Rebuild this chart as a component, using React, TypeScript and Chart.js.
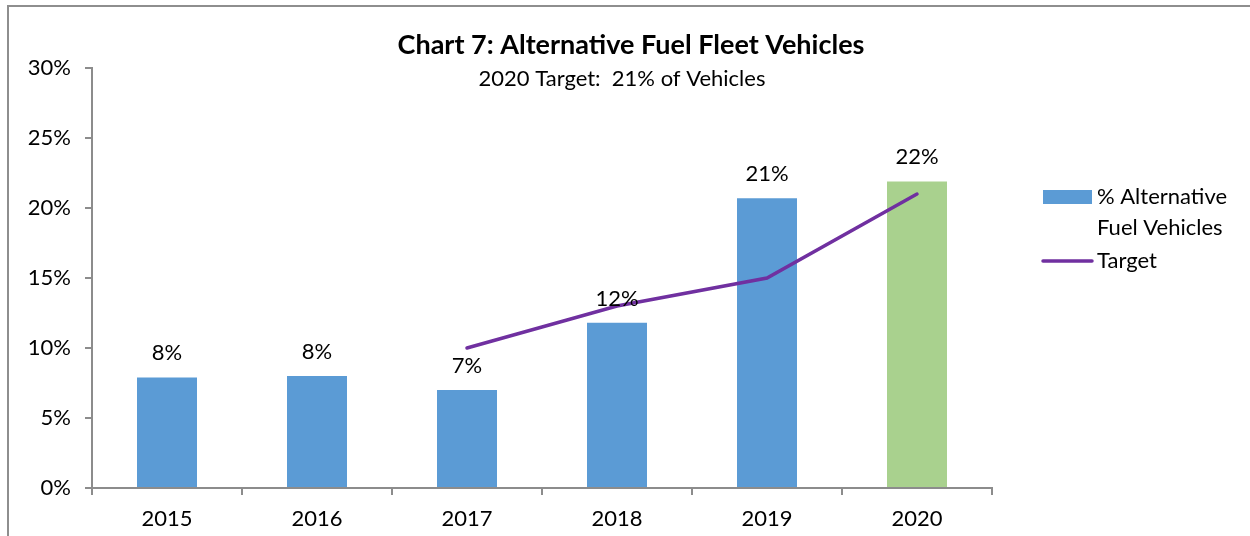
import React, { useEffect, useRef } from "react";
import { Chart, registerables } from "chart.js";

Chart.register(...registerables);

const categories = ["2015", "2016", "2017", "2018", "2019", "2020"];
const altFuelValues = [7.9, 8.0, 7.0, 11.8, 20.7, 21.9];
const targetValues = [null, null, 10, 13, 15, 21];
const barColors = ["#5B9BD5", "#5B9BD5", "#5B9BD5", "#5B9BD5", "#5B9BD5", "#A9D18E"];
const titleText = "Chart 7: Alternative Fuel Fleet Vehicles";
const subtitleText = "2020 Target:  21% of Vehicles";
const legendBarLines = ["% Alternative", "Fuel Vehicles"];
const legendLineLabel = "Target";

const FONT = "Lato, 'Open Sans', sans-serif";
const AXIS_GRAY = "#8c8c8c";
const TXT = 22;

const decorPlugin = {
  id: "decor",
  beforeDraw(chart: any) {
    const ctx = chart.ctx;
    ctx.save();
    ctx.fillStyle = "#ffffff";
    ctx.fillRect(0, 0, chart.width, chart.height);
    ctx.strokeStyle = "#8e8e8e";
    ctx.lineWidth = 2;
    ctx.strokeRect(8, 6, 1260, 545);
    ctx.restore();
  },
  afterDraw(chart: any) {
    const ctx = chart.ctx;
    ctx.save();
    ctx.fillStyle = "#000";
    ctx.textAlign = "center";
    ctx.textBaseline = "middle";
    ctx.font = `bold 27px ${FONT}`;
    ctx.fillText(titleText, 631, 45);
    ctx.font = `${TXT}px ${FONT}`;
    ctx.fillText(subtitleText, 622, 79);

    const meta = chart.getDatasetMeta(0);
    ctx.font = `${TXT}px ${FONT}`;
    meta.data.forEach((bar: any, i: number) => {
      const v = altFuelValues[i];
      ctx.fillText(Math.round(v) + "%", bar.x, bar.y - 24);
    });

    ctx.fillStyle = barColors[0];
    ctx.fillRect(1043, 190, 49, 14);
    ctx.strokeStyle = "#7030A0";
    ctx.lineWidth = 3.5;
    ctx.lineCap = "round";
    ctx.beginPath();
    ctx.moveTo(1043, 261);
    ctx.lineTo(1092, 261);
    ctx.stroke();
    ctx.fillStyle = "#000";
    ctx.textAlign = "left";
    ctx.font = `${TXT}px ${FONT}`;
    ctx.fillText(legendBarLines[0], 1097, 197);
    ctx.fillText(legendBarLines[1], 1097, 228);
    ctx.fillText(legendLineLabel, 1097, 261);
    ctx.restore();
  },
};

export default function App() {
  const ref = useRef<HTMLCanvasElement | null>(null);
  useEffect(() => {
    if (!ref.current) return;
    const chart = new Chart(ref.current, {
      type: "bar",
      data: {
        labels: categories,
        datasets: [
          {
            type: "bar",
            label: "% Alternative Fuel Vehicles",
            data: altFuelValues,
            backgroundColor: barColors,
            barPercentage: 0.4,
            categoryPercentage: 1,
            order: 1,
          },
          {
            type: "line",
            label: "Target",
            data: targetValues as any,
            borderColor: "#7030A0",
            borderWidth: 3.5,
            borderCapStyle: "round",
            pointRadius: 0,
            fill: false,
            order: 0,
          } as any,
        ],
      },
      options: {
        animation: false,
        responsive: false,
        layout: { padding: { left: 0, right: 258, top: 68, bottom: 0 } },
        plugins: {
          legend: { display: false },
          title: { display: false },
          tooltip: { enabled: false },
        },
        scales: {
          x: {
            offset: true,
            grid: {
              offset: true,
              drawOnChartArea: false,
              drawTicks: true,
              tickLength: 7,
              color: AXIS_GRAY,
              lineWidth: 2,
            },
            border: { color: AXIS_GRAY, width: 2 },
            ticks: {
              color: "#000",
              font: { family: FONT, size: TXT },
              padding: 11,
            },
            afterFit(scale: any) {
              scale.height = 48;
            },
          },
          y: {
            min: 0,
            max: 30,
            ticks: {
              stepSize: 5,
              color: "#000",
              font: { family: FONT, size: TXT },
              padding: 14,
              callback: (v: any) => v + "%",
            },
            grid: {
              drawOnChartArea: false,
              drawTicks: true,
              tickLength: 7,
              color: AXIS_GRAY,
              lineWidth: 2,
            },
            border: { color: AXIS_GRAY, width: 2 },
            afterFit(scale: any) {
              scale.width = 92;
            },
          },
        },
      },
      plugins: [decorPlugin],
    });
    return () => chart.destroy();
  }, []);
  return (
    <div style={{ position: "absolute", left: 0, top: 0, width: 1250, height: 536 }}>
      <canvas ref={ref} width={1250} height={536} style={{ display: "block" }} />
    </div>
  );
}
